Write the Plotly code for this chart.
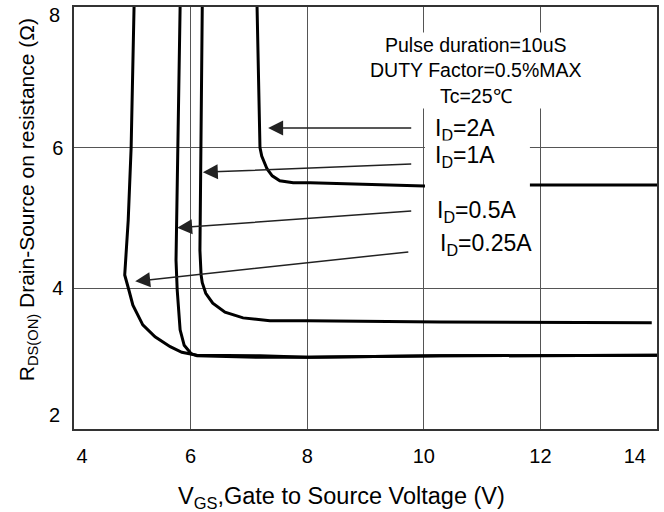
import plotly.graph_objects as go

# ---- data ----
vgs_025 = [5.03, 4.98, 4.93, 4.89, 4.87, 4.94, 5.01, 5.18, 5.39, 5.65, 5.85, 6.11, 7.19, 8.01, 10.28, 14.0]
r_025 = [8.00, 6.00, 4.97, 4.40, 4.19, 3.98, 3.76, 3.48, 3.31, 3.17, 3.09, 3.05, 3.04, 3.02, 3.04, 3.05]

vgs_05 = [5.82, 5.78, 5.75, 5.75, 5.77, 5.82, 5.89, 6.01, 6.11, 7.19, 8.01, 10.28, 14.0]
r_05 = [8.00, 6.00, 4.97, 4.40, 3.98, 3.41, 3.19, 3.07, 3.04, 3.02, 3.02, 3.04, 3.05]

vgs_1 = [6.20, 6.18, 6.16, 6.18, 6.20, 6.26, 6.38, 6.59, 6.90, 7.36, 8.01, 10.28, 13.91]
r_1 = [8.00, 6.00, 4.54, 4.19, 4.08, 3.93, 3.79, 3.66, 3.58, 3.54, 3.54, 3.52, 3.51]

vgs_2 = [7.14, 7.19, 7.22, 7.26, 7.31, 7.40, 7.53, 7.76, 8.05, 10.16, 11.82, 14.0]
r_2 = [8.00, 6.00, 5.88, 5.81, 5.70, 5.60, 5.53, 5.50, 5.50, 5.45, 5.47, 5.47]

# grid ticks; inner labels sit on the grid, end labels are printed just inside the frame
x_ticks = [4, 6, 8, 10, 12, 14]
x_tick_text = ["", "6", "8", "10", "12", ""]
x_end_ticks = [4.14, 13.62]
x_end_text = ["4", "14"]
y_ticks = [2, 4, 6, 8]
y_tick_text = ["", "4", "6", ""]
y_end_ticks = [2.20, 7.886]
y_end_text = ["2", "8"]

id_labels = ["I<sub>D</sub>=2A", "I<sub>D</sub>=1A", "I<sub>D</sub>=0.5A", "I<sub>D</sub>=0.25A"]
label_x = [10.16, 10.16, 10.19, 10.24]
label_y = [6.26, 5.87, 5.09, 4.62]
tip_x = [7.33, 6.21, 5.77, 5.05]
tip_y = [6.28, 5.65, 4.86, 4.10]
tail_x = [9.81, 9.81, 9.81, 9.76]
tail_y = [6.28, 5.77, 5.10, 4.52]

note_text = "Pulse duration=10uS<br>DUTY Factor=0.5%MAX<br>Tc=25℃"
note_x, note_y = 10.90, 7.10

FONT = "Arial, Liberation Sans, sans-serif"

fig = go.Figure()
line_style = dict(color="black", width=3)
for xs, ys in [(vgs_025, r_025), (vgs_05, r_05), (vgs_1, r_1), (vgs_2, r_2)]:
    fig.add_trace(go.Scatter(x=xs, y=ys, mode="lines", line=line_style,
                             showlegend=False, hoverinfo="skip"))
# empty trace so the label-only overlay axes are drawn
fig.add_trace(go.Scatter(x=[], y=[], xaxis="x2", yaxis="y2", showlegend=False, hoverinfo="skip"))

# white area behind the current labels (covers grid and curve like the reference)
fig.add_shape(type="rect", xref="x", yref="y", x0=10.02, x1=11.82, y0=5.33, y1=6.41,
              fillcolor="white", line=dict(width=0), layer="above")

annotations = []
for t, lx, ly in zip(id_labels, label_x, label_y):
    annotations.append(dict(x=lx, y=ly, xref="x", yref="y", text=t, showarrow=False,
                            xanchor="left", yanchor="middle", bgcolor="white",
                            font=dict(family=FONT, size=23, color="black")))
for tx, ty, ax, ay in zip(tip_x, tip_y, tail_x, tail_y):
    annotations.append(dict(x=tx, y=ty, ax=ax, ay=ay, xref="x", yref="y", axref="x", ayref="y",
                            text="", showarrow=True, arrowhead=2, arrowsize=2, arrowwidth=1.5,
                            arrowcolor="#222", standoff=0))
annotations.append(dict(x=note_x, y=note_y, xref="x", yref="y", text=note_text, showarrow=False,
                        align="center", bgcolor="white", borderpad=1,
                        font=dict(family=FONT, size=19.5, color="black")))
annotations.append(dict(x=0.458, y=-0.163, xref="paper", yref="paper",
                        text="V<sub>GS</sub>,Gate to Source Voltage (V)", showarrow=False,
                        xanchor="center", yanchor="middle",
                        font=dict(family=FONT, size=23.5, color="black")))
annotations.append(dict(x=-0.08, y=0.543, xref="paper", yref="paper",
                        text="R<sub>DS(ON)</sub> Drain-Source on resistance (Ω)", showarrow=False,
                        textangle=-90, xanchor="center", yanchor="middle",
                        font=dict(family=FONT, size=21, color="black")))

common = dict(ticks="", zeroline=False, automargin=False, ticklabeloverflow="allow",
              tickfont=dict(family=FONT, size=20, color="black"))

fig.update_layout(
    width=664, height=512,
    margin=dict(l=74, r=7, t=7, b=83),
    paper_bgcolor="white", plot_bgcolor="white",
    font=dict(family=FONT, size=20, color="black"),
    annotations=annotations,
    showlegend=False,
    xaxis=dict(range=[4, 14], tickvals=x_ticks, ticktext=x_tick_text, showgrid=True,
               gridcolor="#555", gridwidth=1, showline=True, linecolor="#333", linewidth=1.5,
               mirror=True, ticklabelstandoff=8, **common),
    yaxis=dict(range=[2, 8], tickvals=y_ticks, ticktext=y_tick_text, showgrid=True,
               gridcolor="#555", gridwidth=1, showline=True, linecolor="#333", linewidth=1.5,
               mirror=True, ticklabelstandoff=5, **common),
    xaxis2=dict(range=[4, 14], overlaying="x", anchor="y2", side="bottom", tickvals=x_end_ticks,
                ticktext=x_end_text, showgrid=False, showline=False, ticklabelstandoff=13, **common),
    yaxis2=dict(range=[2, 8], overlaying="y", anchor="x2", side="left", tickvals=y_end_ticks,
                ticktext=y_end_text, showgrid=False, showline=False, ticklabelstandoff=13, **common),
)

fig.write_html("out.html", config={"displayModeBar": False},
               post_script="document.body.style.margin='0';")
